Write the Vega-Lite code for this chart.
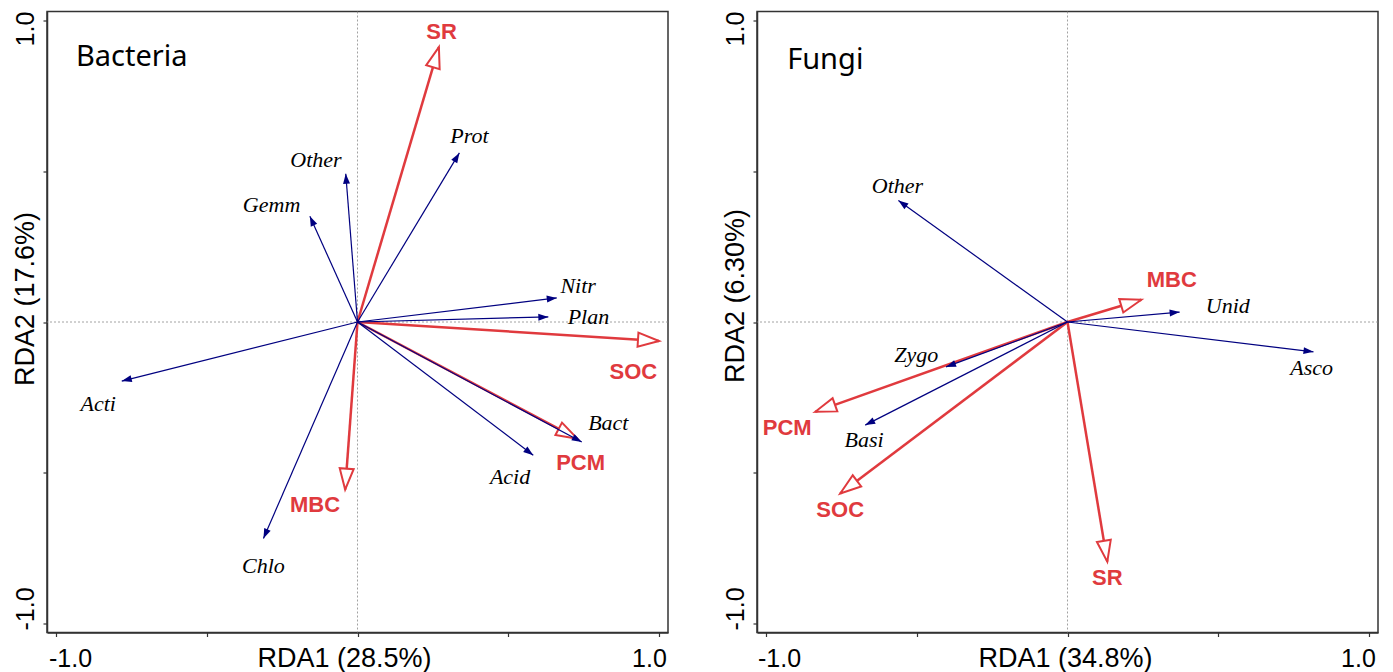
{
  "$schema": "https://vega.github.io/schema/vega-lite/v6.json",
  "padding": {"left": 10, "top": 9.5, "right": 5, "bottom": 0},
  "background": "white",
  "config": {
    "view": {"stroke": "#333333", "strokeWidth": 1.5},
    "axis": {"grid": false, "domainColor": "#333333", "domainWidth": 1.5, "tickColor": "#333333", "tickWidth": 1.2, "tickSize": 4, "labelColor": "black", "titleColor": "black", "labelFont": "Liberation Sans", "titleFont": "Liberation Sans", "titleFontWeight": "normal", "labelFlush": false, "labelOverlap": false}
  },
  "datasets": {
    "rda": [
      {"panel": "Bacteria", "name": "SR", "kind": "env", "x": 0.270, "y": 0.912, "lx": 0.279, "ly": 0.962},
      {"panel": "Bacteria", "name": "SOC", "kind": "env", "x": 1.0, "y": -0.063, "lx": 0.915, "ly": -0.166},
      {"panel": "Bacteria", "name": "MBC", "kind": "env", "x": -0.041, "y": -0.556, "lx": -0.141, "ly": -0.608},
      {"panel": "Bacteria", "name": "PCM", "kind": "env", "x": 0.729, "y": -0.387, "lx": 0.740, "ly": -0.468},
      {"panel": "Bacteria", "name": "Prot", "kind": "taxon", "x": 0.338, "y": 0.561, "lx": 0.371, "ly": 0.616},
      {"panel": "Bacteria", "name": "Other", "kind": "taxon", "x": -0.039, "y": 0.492, "lx": -0.138, "ly": 0.536},
      {"panel": "Bacteria", "name": "Gemm", "kind": "taxon", "x": -0.158, "y": 0.351, "lx": -0.285, "ly": 0.387},
      {"panel": "Bacteria", "name": "Nitr", "kind": "taxon", "x": 0.661, "y": 0.080, "lx": 0.732, "ly": 0.118},
      {"panel": "Bacteria", "name": "Plan", "kind": "taxon", "x": 0.633, "y": 0.017, "lx": 0.766, "ly": 0.017},
      {"panel": "Bacteria", "name": "Acti", "kind": "taxon", "x": -0.782, "y": -0.196, "lx": -0.860, "ly": -0.271},
      {"panel": "Bacteria", "name": "Chlo", "kind": "taxon", "x": -0.312, "y": -0.718, "lx": -0.312, "ly": -0.810},
      {"panel": "Bacteria", "name": "Acid", "kind": "taxon", "x": 0.583, "y": -0.442, "lx": 0.506, "ly": -0.514},
      {"panel": "Bacteria", "name": "Bact", "kind": "taxon", "x": 0.744, "y": -0.398, "lx": 0.832, "ly": -0.334},
      {"panel": "Fungi", "name": "MBC", "kind": "env", "x": 0.245, "y": 0.074, "lx": 0.346, "ly": 0.138},
      {"panel": "Fungi", "name": "SR", "kind": "env", "x": 0.132, "y": -0.795, "lx": 0.132, "ly": -0.849},
      {"panel": "Fungi", "name": "PCM", "kind": "env", "x": -0.837, "y": -0.298, "lx": -0.930, "ly": -0.353},
      {"panel": "Fungi", "name": "SOC", "kind": "env", "x": -0.754, "y": -0.569, "lx": -0.754, "ly": -0.624},
      {"panel": "Fungi", "name": "Other", "kind": "taxon", "x": -0.561, "y": 0.403, "lx": -0.564, "ly": 0.451},
      {"panel": "Fungi", "name": "Unid", "kind": "taxon", "x": 0.372, "y": 0.033, "lx": 0.532, "ly": 0.052},
      {"panel": "Fungi", "name": "Asco", "kind": "taxon", "x": 0.816, "y": -0.099, "lx": 0.810, "ly": -0.152},
      {"panel": "Fungi", "name": "Zygo", "kind": "taxon", "x": -0.403, "y": -0.149, "lx": -0.502, "ly": -0.110},
      {"panel": "Fungi", "name": "Basi", "kind": "taxon", "x": -0.671, "y": -0.342, "lx": -0.675, "ly": -0.392}
    ],
    "titles": [
      {"panel": "Bacteria", "label": "Bacteria", "tx": -0.934, "ty": 0.849},
      {"panel": "Fungi", "label": "Fungi", "tx": -0.930, "ty": 0.840}
    ]
  },
  "bounds": "flush",
  "spacing": 89,
  "hconcat": [
    {
      "width": 621, "height": 621,
      "data": {"name": "rda"},
      "transform": [{"filter": "datum.panel == 'Bacteria'"}, {"calculate": "atan2(datum.x, datum.y) * 180 / PI", "as": "ang"}],
      "layer": [
        {"data": {"values": [{}]}, "mark": {"type": "rule", "color": "#8a8a8a", "strokeWidth": 0.8, "strokeDash": [2, 2]},
         "encoding": {"x": {"datum": 0, "type": "quantitative", "scale": {"domain": [-1.03, 1.03], "nice": false, "zero": false},
           "axis": {"values": [-1, -0.5, 0, 0.5, 1], "labelExpr": "datum.value == 1 ? '1.0' : datum.value == -1 ? '-1.0' : ''", "labelFontSize": 25, "labelPadding": 9.5, "labelOffset": {"condition": {"test": "datum.value == 1", "value": -10}, "value": 14}, "title": "RDA1 (28.5%)", "titleFontSize": 27, "titleX": 297, "titleY": 33.5, "titleBaseline": "alphabetic", "titleAlign": "center"}}}},
        {"data": {"values": [{}]}, "mark": {"type": "rule", "color": "#8a8a8a", "strokeWidth": 0.8, "strokeDash": [2, 2]},
         "encoding": {"y": {"datum": 0, "type": "quantitative", "scale": {"domain": [-1.03, 1.03], "nice": false, "zero": false},
           "axis": {"values": [-1, -0.5, 0, 0.5, 1], "labelExpr": "datum.value == 1 ? '1.0' : datum.value == -1 ? '-1.0' : ''", "labelFontSize": 25, "labelAngle": 270, "labelAlign": "center", "labelBaseline": "alphabetic", "labelPadding": 10, "labelOffset": {"condition": {"test": "datum.value == 1", "value": 8}, "value": -15}, "title": "RDA2 (17.6%)", "titleFontSize": 27, "titleAngle": 270, "titleX": -14, "titleY": 287, "titleBaseline": "alphabetic", "titleAlign": "center"}}}},
        {"transform": [{"filter": "datum.kind == 'env'"}], "mark": {"type": "rule", "color": "#e03a3e", "strokeWidth": 2.5},
         "encoding": {"x": {"field": "x", "type": "quantitative"}, "y": {"field": "y", "type": "quantitative"}, "x2": {"datum": 0}, "y2": {"datum": 0}}},
        {"transform": [{"filter": "datum.kind == 'env'"}], "mark": {"type": "point", "shape": "M0,0 L-1.4,4.2 L1.4,4.2 Z", "size": 100, "filled": true, "fill": "white", "stroke": "#e03a3e", "strokeWidth": 2, "opacity": 1},
         "encoding": {"x": {"field": "x", "type": "quantitative"}, "y": {"field": "y", "type": "quantitative"}, "angle": {"field": "ang", "type": "quantitative", "scale": null}}},
        {"transform": [{"filter": "datum.kind == 'taxon'"}], "mark": {"type": "rule", "color": "#000080", "strokeWidth": 1.2},
         "encoding": {"x": {"field": "x", "type": "quantitative"}, "y": {"field": "y", "type": "quantitative"}, "x2": {"datum": 0}, "y2": {"datum": 0}}},
        {"transform": [{"filter": "datum.kind == 'taxon'"}], "mark": {"type": "point", "shape": "M0,0 L-0.7,2 L0.7,2 Z", "size": 100, "filled": true, "color": "#000080", "opacity": 1},
         "encoding": {"x": {"field": "x", "type": "quantitative"}, "y": {"field": "y", "type": "quantitative"}, "angle": {"field": "ang", "type": "quantitative", "scale": null}}},
        {"transform": [{"filter": "datum.kind == 'taxon'"}], "mark": {"type": "text", "font": "Liberation Serif", "fontStyle": "italic", "fontSize": 22, "color": "black", "align": "center", "baseline": "middle"},
         "encoding": {"x": {"field": "lx", "type": "quantitative"}, "y": {"field": "ly", "type": "quantitative"}, "text": {"field": "name"}}},
        {"transform": [{"filter": "datum.kind == 'env'"}], "mark": {"type": "text", "font": "Liberation Sans", "fontWeight": "bold", "fontSize": 22, "color": "#e03a3e", "align": "center", "baseline": "middle"},
         "encoding": {"x": {"field": "lx", "type": "quantitative"}, "y": {"field": "ly", "type": "quantitative"}, "text": {"field": "name"}}},
        {"data": {"name": "titles"}, "transform": [{"filter": "datum.panel == 'Bacteria'"}], "mark": {"type": "text", "font": "Noto Sans", "fontSize": 29, "color": "black", "align": "left", "baseline": "alphabetic"},
         "encoding": {"x": {"field": "tx", "type": "quantitative"}, "y": {"field": "ty", "type": "quantitative"}, "text": {"field": "label"}}}
      ]
    },
    {
      "width": 621, "height": 621,
      "data": {"name": "rda"},
      "transform": [{"filter": "datum.panel == 'Fungi'"}, {"calculate": "atan2(datum.x, datum.y) * 180 / PI", "as": "ang"}],
      "layer": [
        {"data": {"values": [{}]}, "mark": {"type": "rule", "color": "#8a8a8a", "strokeWidth": 0.8, "strokeDash": [2, 2]},
         "encoding": {"x": {"datum": 0, "type": "quantitative", "scale": {"domain": [-1.03, 1.03], "nice": false, "zero": false},
           "axis": {"values": [-1, -0.5, 0, 0.5, 1], "labelExpr": "datum.value == 1 ? '1.0' : datum.value == -1 ? '-1.0' : ''", "labelFontSize": 25, "labelPadding": 9.5, "labelOffset": {"condition": {"test": "datum.value == 1", "value": -11}, "value": 13}, "title": "RDA1 (34.8%)", "titleFontSize": 27, "titleX": 308, "titleY": 33.5, "titleBaseline": "alphabetic", "titleAlign": "center"}}}},
        {"data": {"values": [{}]}, "mark": {"type": "rule", "color": "#8a8a8a", "strokeWidth": 0.8, "strokeDash": [2, 2]},
         "encoding": {"y": {"datum": 0, "type": "quantitative", "scale": {"domain": [-1.03, 1.03], "nice": false, "zero": false},
           "axis": {"values": [-1, -0.5, 0, 0.5, 1], "labelExpr": "datum.value == 1 ? '1.0' : datum.value == -1 ? '-1.0' : ''", "labelFontSize": 25, "labelAngle": 270, "labelAlign": "center", "labelBaseline": "alphabetic", "labelPadding": 10, "labelOffset": {"condition": {"test": "datum.value == 1", "value": 8}, "value": -15}, "title": "RDA2 (6.30%)", "titleFontSize": 27, "titleAngle": 270, "titleX": -14, "titleY": 284, "titleBaseline": "alphabetic", "titleAlign": "center"}}}},
        {"transform": [{"filter": "datum.kind == 'env'"}], "mark": {"type": "rule", "color": "#e03a3e", "strokeWidth": 2.5},
         "encoding": {"x": {"field": "x", "type": "quantitative"}, "y": {"field": "y", "type": "quantitative"}, "x2": {"datum": 0}, "y2": {"datum": 0}}},
        {"transform": [{"filter": "datum.kind == 'env'"}], "mark": {"type": "point", "shape": "M0,0 L-1.4,4.2 L1.4,4.2 Z", "size": 100, "filled": true, "fill": "white", "stroke": "#e03a3e", "strokeWidth": 2, "opacity": 1},
         "encoding": {"x": {"field": "x", "type": "quantitative"}, "y": {"field": "y", "type": "quantitative"}, "angle": {"field": "ang", "type": "quantitative", "scale": null}}},
        {"transform": [{"filter": "datum.kind == 'taxon'"}], "mark": {"type": "rule", "color": "#000080", "strokeWidth": 1.2},
         "encoding": {"x": {"field": "x", "type": "quantitative"}, "y": {"field": "y", "type": "quantitative"}, "x2": {"datum": 0}, "y2": {"datum": 0}}},
        {"transform": [{"filter": "datum.kind == 'taxon'"}], "mark": {"type": "point", "shape": "M0,0 L-0.7,2 L0.7,2 Z", "size": 100, "filled": true, "color": "#000080", "opacity": 1},
         "encoding": {"x": {"field": "x", "type": "quantitative"}, "y": {"field": "y", "type": "quantitative"}, "angle": {"field": "ang", "type": "quantitative", "scale": null}}},
        {"transform": [{"filter": "datum.kind == 'taxon'"}], "mark": {"type": "text", "font": "Liberation Serif", "fontStyle": "italic", "fontSize": 22, "color": "black", "align": "center", "baseline": "middle"},
         "encoding": {"x": {"field": "lx", "type": "quantitative"}, "y": {"field": "ly", "type": "quantitative"}, "text": {"field": "name"}}},
        {"transform": [{"filter": "datum.kind == 'env'"}], "mark": {"type": "text", "font": "Liberation Sans", "fontWeight": "bold", "fontSize": 22, "color": "#e03a3e", "align": "center", "baseline": "middle"},
         "encoding": {"x": {"field": "lx", "type": "quantitative"}, "y": {"field": "ly", "type": "quantitative"}, "text": {"field": "name"}}},
        {"data": {"name": "titles"}, "transform": [{"filter": "datum.panel == 'Fungi'"}], "mark": {"type": "text", "font": "Noto Sans", "fontSize": 29, "color": "black", "align": "left", "baseline": "alphabetic"},
         "encoding": {"x": {"field": "tx", "type": "quantitative"}, "y": {"field": "ty", "type": "quantitative"}, "text": {"field": "label"}}}
      ]
    }
  ]
}
